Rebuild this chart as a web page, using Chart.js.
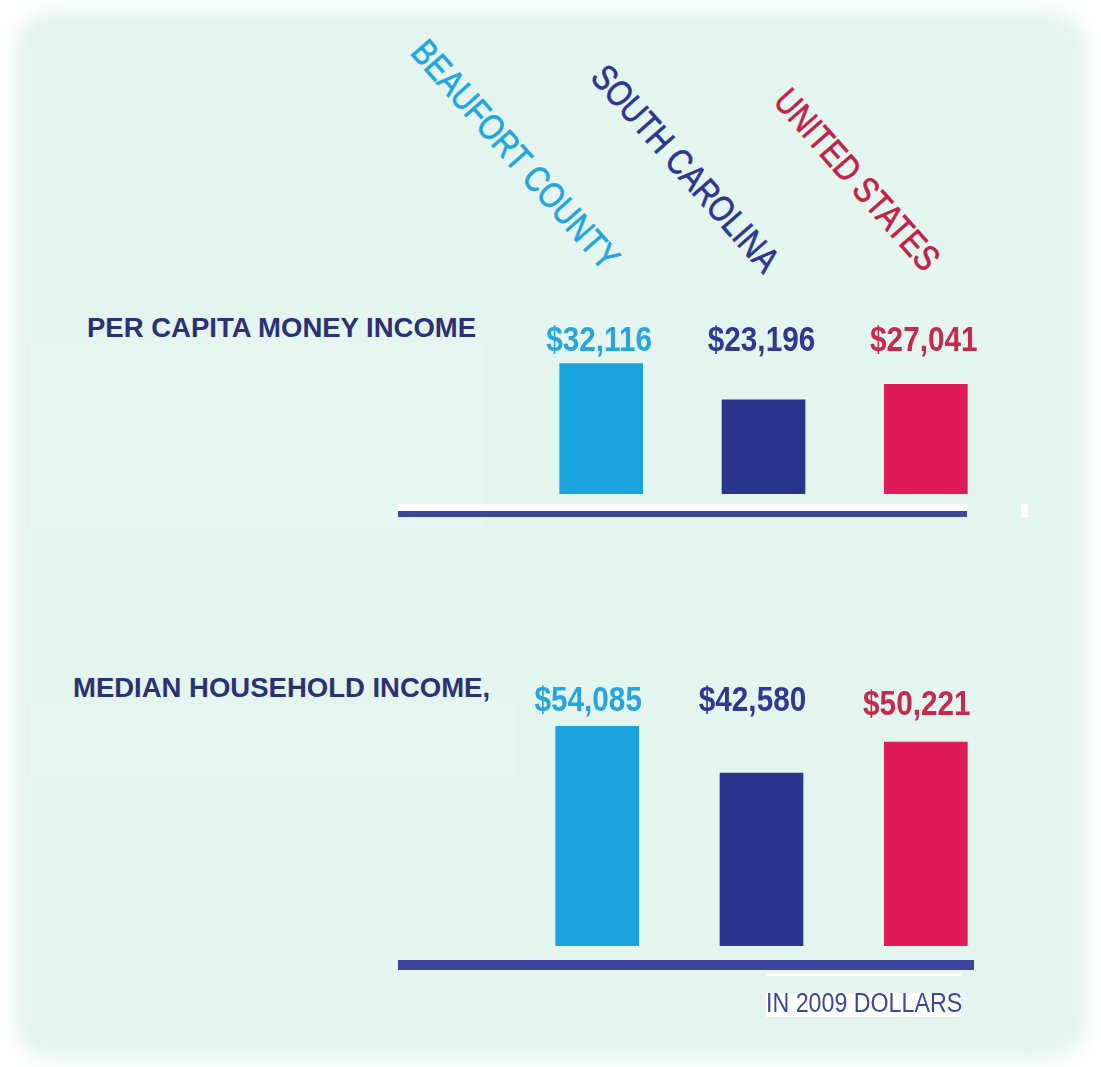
<!DOCTYPE html>
<html>
<head>
<meta charset="utf-8">
<script src="https://cdn.jsdelivr.net/npm/chart.js@4/dist/chart.umd.min.js"></script>
<style>
  html, body { margin: 0; padding: 0; background: #ffffff; }
  body { width: 1101px; height: 1067px; position: relative; overflow: hidden; }
  #panel { position: absolute; left: 14px; top: 10px; width: 1074px; height: 1050px;
           background: #e4f4ee; border-radius: 40px; filter: blur(9px); }
  .patch { position: absolute; background: #e8f6f1; }
  .abs { position: absolute; white-space: nowrap; line-height: 1; }
  .title { font-family: "Liberation Sans", Arial, sans-serif; font-weight: bold; font-size: 27.5px; color: #2b3173; }
  .cat { font-family: "Liberation Sans", Arial, sans-serif; font-size: 36px; -webkit-text-stroke: 0.7px currentColor;
         transform-origin: 0 0.8465em; transform: rotate(48.5deg) scaleX(0.82); }
  .axisline { position: absolute; background: #3c479b; }
  .white { position: absolute; background: #ffffff; }
  canvas { position: absolute; }
</style>
</head>
<body>
<div id="panel"></div>
<div class="patch" style="left:30px;top:343px;width:452px;height:185px;"></div>
<div class="patch" style="left:30px;top:705px;width:485px;height:70px;"></div>

<div id="cats"></div>

<div class="abs title" style="left:87px;top:313.5px;">PER CAPITA MONEY INCOME</div>
<div class="abs title" style="left:73px;top:674px;">MEDIAN HOUSEHOLD INCOME,</div>

<div class="white" style="left:398px;top:504px;width:569px;height:7px;"></div>
<div class="white" style="left:1021px;top:504px;width:7px;height:13px;"></div>
<div class="axisline" style="left:398px;top:511px;width:569px;height:6px;"></div>
<div class="axisline" style="left:398px;top:960px;width:576px;height:10px;"></div>

<div class="white" style="left:766px;top:973px;width:195px;height:3px;"></div>
<div class="white" style="left:766px;top:993px;width:195px;height:24px;"></div>
<div class="abs" id="note" style="left:766px;top:989.5px;font-family:'Liberation Sans',Arial,sans-serif;font-size:27px;color:#3c479b;transform-origin:0 0;transform:scaleX(0.86);"></div>

<canvas id="c1" width="487" height="204" style="left:520px;top:290px;width:487px;height:204px;"></canvas>
<canvas id="c2" width="493" height="296" style="left:515px;top:650px;width:493px;height:296px;"></canvas>

<script>
// ---- data ----
const categories = ["BEAUFORT COUNTY", "SOUTH CAROLINA", "UNITED STATES"];
const perCapitaIncome = [32116, 23196, 27041];
const medianHouseholdIncome = [54085, 42580, 50221];
const footnote = "IN 2009 DOLLARS";

// ---- styles ----
const barColors = ["#19a4de", "#29348c", "#df1b5a"];
const valueColors = ["#27a5de", "#2f3990", "#c52a4c"];
const catColors = ["#22a5df", "#2d3591", "#c21f47"];
const catAnchors = [[409, 53], [589, 78], [772, 102]];
const PX_PER_DOLLAR = 0.00406;

document.getElementById('note').textContent = footnote;

// rotated category labels
const catsDiv = document.getElementById('cats');
categories.forEach((c, i) => {
  const d = document.createElement('div');
  d.className = 'abs cat';
  d.textContent = c;
  d.style.color = catColors[i];
  d.style.left = catAnchors[i][0] + 'px';
  d.style.top = (catAnchors[i][1] - 0.8465 * 36) + 'px';
  catsDiv.appendChild(d);
});

const valueLabels = {
  id: 'valueLabels',
  afterDatasetsDraw(chart, args, opts) {
    const ctx = chart.ctx;
    const meta = chart.getDatasetMeta(0);
    const data = chart.data.datasets[0].data;
    meta.data.forEach((bar, i) => {
      ctx.save();
      ctx.font = 'bold 35px "Liberation Sans", Arial, sans-serif';
      ctx.textAlign = 'center';
      ctx.textBaseline = 'middle';
      ctx.fillStyle = valueColors[i];
      ctx.translate(bar.x + opts.dx, opts.ys[i]);
      ctx.scale(0.85, 1);
      ctx.fillText('$' + data[i].toLocaleString('en-US'), 0, 0);
      ctx.restore();
    });
  }
};

function makeChart(id, values, heightPx, labelYs, dx) {
  return new Chart(document.getElementById(id), {
    type: 'bar',
    data: {
      labels: categories,
      datasets: [{
        data: values,
        backgroundColor: barColors,
        borderWidth: 0,
        barThickness: 83
      }]
    },
    options: {
      responsive: false,
      animation: false,
      devicePixelRatio: 1,
      layout: { padding: 0 },
      plugins: {
        legend: { display: false },
        tooltip: { enabled: false },
        valueLabels: { ys: labelYs, dx: dx }
      },
      scales: {
        x: { display: false },
        y: { display: false, min: 0, max: heightPx / PX_PER_DOLLAR }
      }
    },
    plugins: [valueLabels]
  });
}

makeChart('c1', perCapitaIncome, 204, [51, 51, 51], -2);
makeChart('c2', medianHouseholdIncome, 296, [51, 51, 55], -9);
</script>
</body>
</html>
